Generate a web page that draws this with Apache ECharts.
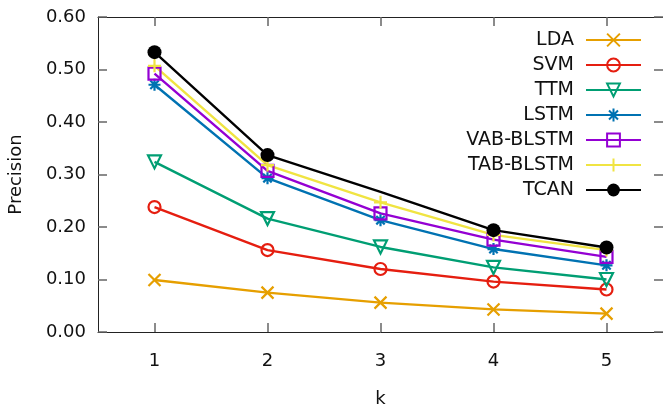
<!DOCTYPE html>
<html>
<head>
<meta charset="utf-8">
<script src="https://cdn.jsdelivr.net/npm/echarts@6/dist/echarts.min.js"></script>
<style>
  html, body { margin: 0; padding: 0; background: #fff; }
  #chart { width: 663px; height: 408px; }
</style>
</head>
<body>
<div id="chart"></div>
<script>
// values
var kValues = ['1', '2', '3', '4', '5'];
var yTicks = [0, 0.1, 0.2, 0.3, 0.4, 0.5, 0.6];

var lda = [0.099, 0.075, 0.056, 0.043, 0.035];
var svm = [0.238, 0.156, 0.120, 0.096, 0.081];
var ttm = [0.324, 0.216, 0.162, 0.123, 0.100];
var lstm = [0.471, 0.293, 0.213, 0.158, 0.127];
var vabBlstm = [0.492, 0.307, 0.226, 0.176, 0.143];
var tabBlstm = [0.507, 0.318, 0.247, 0.185, 0.156];
var tcan = [0.533, 0.337, 0.267, 0.194, 0.161];

var FONT = 'DejaVu Sans';

function mk(name, data, color, symbol, size, filled) {
  return {
    name: name,
    type: 'line',
    data: data,
    symbol: symbol,
    symbolSize: size,
    showAllSymbol: true,
    lineStyle: { color: color, width: 2.4 },
    itemStyle: filled
      ? { color: color, borderWidth: 0 }
      : { color: 'none', borderColor: color, borderWidth: 2.2 }
  };
}

// the reference draws no TCAN marker at k=3
var tcanData = tcan.map(function (v, i) {
  return i === 2 ? { value: v, symbol: 'none' } : v;
});

function tick(extra) {
  return Object.assign({ show: true, inside: true, length: 9, lineStyle: { color: '#666', width: 1.5 } }, extra || {});
}

var chart = echarts.init(document.getElementById('chart'));
chart.setOption({
  animation: false,
  grid: { left: 98, top: 17, right: 0, bottom: 76, outerBoundsMode: 'none' },
  legend: {
    orient: 'vertical',
    align: 'right',
    right: 21,
    top: 30,
    padding: 0,
    itemWidth: 55,
    itemHeight: 16,
    itemGap: 5,
    textStyle: { fontFamily: FONT, fontSize: 19, color: '#111', lineHeight: 20, padding: [0, 7, 0, 0] },
    data: ['LDA', 'SVM', 'TTM', 'LSTM', 'VAB-BLSTM', 'TAB-BLSTM', 'TCAN']
  },
  xAxis: [{
    type: 'category',
    data: kValues,
    name: 'k',
    nameLocation: 'middle',
    nameGap: 58,
    nameTextStyle: { fontFamily: FONT, fontSize: 18, color: '#111' },
    axisLine: { show: true, onZero: false, lineStyle: { color: '#222', width: 1 } },
    axisTick: tick({ alignWithLabel: true }),
    axisLabel: { fontFamily: FONT, fontSize: 18, color: '#111', margin: 20 },
    splitLine: { show: false }
  }, {
    type: 'category',
    data: kValues,
    position: 'top',
    axisLine: { show: true, onZero: false, lineStyle: { color: '#222', width: 1 } },
    axisTick: tick({ alignWithLabel: true }),
    axisLabel: { show: false },
    splitLine: { show: false }
  }],
  yAxis: [{
    type: 'value',
    min: yTicks[0],
    max: yTicks[yTicks.length - 1],
    interval: 0.1,
    name: 'Precision',
    nameLocation: 'middle',
    nameGap: 73,
    nameTextStyle: { fontFamily: FONT, fontSize: 18, color: '#111' },
    axisLine: { show: true, onZero: false, lineStyle: { color: '#222', width: 1 } },
    axisTick: tick(),
    axisLabel: {
      fontFamily: FONT, fontSize: 18, color: '#111', margin: 12,
      formatter: function (v) { return v.toFixed(2); }
    },
    splitLine: { show: false }
  }, {
    type: 'value',
    position: 'right',
    min: yTicks[0],
    max: yTicks[yTicks.length - 1],
    interval: 0.1,
    axisLine: { show: false, onZero: false },
    axisTick: tick(),
    axisLabel: { show: false },
    splitLine: { show: false }
  }],
  series: [
    mk('LDA', lda, '#e69f00', 'path://M0,0L10,10M10,0L0,10', 12, false),
    mk('SVM', svm, '#e51e10', 'circle', 12, false),
    mk('TTM', ttm, '#009e73', 'path://M0,0L10,0L5,8.7Z', 13, false),
    mk('LSTM', lstm, '#0072b2', 'path://M5,0L5,10M0,5L10,5M1.5,1.5L8.5,8.5M8.5,1.5L1.5,8.5', 12, false),
    mk('VAB-BLSTM', vabBlstm, '#9400d3', 'rect', 12, false),
    mk('TAB-BLSTM', tabBlstm, '#f0e442', 'path://M5,0L5,10M0,5L10,5', 13, false),
    mk('TCAN', tcanData, '#000000', 'circle', 14, true)
  ]
});
</script>
</body>
</html>
